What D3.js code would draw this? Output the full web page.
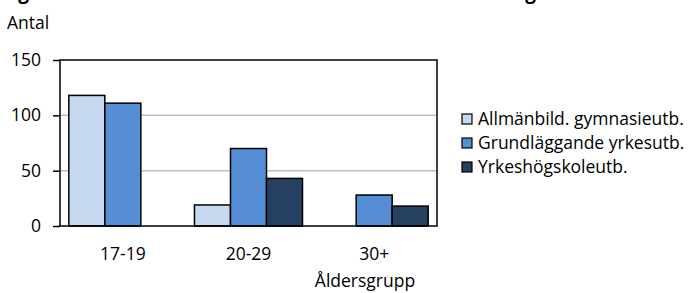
<!DOCTYPE html>
<html>
<head>
<meta charset="utf-8">
<script src="https://cdn.jsdelivr.net/npm/d3@7"></script>
<style>
  body { margin: 0; background: #fff; }
  text { font-family: "Open Sans", "Noto Sans", sans-serif; fill: #000; }
</style>
</head>
<body>
<div id="chart"></div>
<script>
// data
var categories = ["17-19", "20-29", "30+"];
var seriesNames = ["Allmänbild. gymnasieutb.", "Grundläggande yrkesutb.", "Yrkeshögskoleutb."];
var allmanbild = [118, 19, 0];
var grundlaggande = [111, 70, 28];
var yrkeshogskola = [0, 43, 18];
var yTicks = [0, 50, 100, 150];

var seriesValues = [allmanbild, grundlaggande, yrkeshogskola];
var colors = ["#c6d9f1", "#558ed5", "#254061"];
var font = "'Open Sans', sans-serif";
var fs = 17.5;

var svgWidth = 697;
var svgHeight = 293;

var margin = { top: 60, right: 260, bottom: 67, left: 60 };
var width = svgWidth - margin.left - margin.right;
var height = svgHeight - margin.top - margin.bottom;

var svg = d3.select("#chart")
            .append("svg")
            .attr("width", svgWidth)
            .attr("height", svgHeight);

// title, mostly cut off by the top edge in the original
svg.append("text")
   .attr("x", 0)
   .attr("y", -1.5)
   .attr("font-weight", "bold")
   .attr("font-size", 19)
   .attr("textLength", 536)
   .attr("lengthAdjust", "spacing")
   .text("Figur 2. Antal studerande efter ålder och utbildning");

svg.append("text")
   .attr("x", 7)
   .attr("y", 29)
   .attr("font-size", fs)
   .text("Antal");

var chartGroup = svg.append("g")
                    .attr("transform", `translate(${margin.left}, ${margin.top})`);

var rows = categories.map(function(c, i) {
    return { cat: c, vals: seriesValues.map(function(s, j) { return { key: j, v: s[i] }; }) };
});

// scales
var x0 = d3.scaleBand()
           .domain(categories)
           .range([0, width]);

var x1 = d3.scaleBand()
           .domain(d3.range(seriesNames.length))
           .range([0, x0.bandwidth()])
           .paddingOuter(0.245);

var y = d3.scaleLinear()
          .domain([0, 150])
          .range([height, 0]);

// gridlines
chartGroup.selectAll(".grid")
          .data(yTicks.filter(d => d > 0 && d < 150))
          .enter()
          .append("line")
          .attr("x1", 0)
          .attr("x2", width)
          .attr("y1", d => y(d))
          .attr("y2", d => y(d))
          .attr("stroke", "#bfbfbf")
          .attr("stroke-width", 1.5);

// bars
var groups = chartGroup.selectAll(".grp")
                       .data(rows)
                       .enter()
                       .append("g")
                       .attr("transform", d => `translate(${x0(d.cat)},0)`);

groups.selectAll("rect")
      .data(d => d.vals.filter(b => b.v > 0))
      .enter()
      .append("rect")
      .attr("x", d => x1(d.key))
      .attr("y", d => y(d.v))
      .attr("width", x1.bandwidth())
      .attr("height", d => y(0) - y(d.v))
      .attr("fill", d => colors[d.key])
      .attr("stroke", "#000")
      .attr("stroke-width", 1.5);

// plot frame
chartGroup.append("rect")
          .attr("x", 0)
          .attr("y", 0)
          .attr("width", width)
          .attr("height", height)
          .attr("fill", "none")
          .attr("stroke", "#000")
          .attr("stroke-width", 1.5);

// axes
var leftAxis = d3.axisLeft(y).tickValues(yTicks).tickSize(7).tickPadding(12);
var yAxisG = chartGroup.append("g").call(leftAxis);
yAxisG.select(".domain").remove();
yAxisG.selectAll(".tick line").attr("stroke", "#000").attr("stroke-width", 1.5);
yAxisG.selectAll("text").attr("font-size", fs).attr("font-family", font).attr("fill", "#000");

var bottomAxis = d3.axisBottom(x0).tickSize(0).tickPadding(22);
var xAxisG = chartGroup.append("g")
                       .attr("transform", `translate(0, ${height})`)
                       .call(bottomAxis);
xAxisG.select(".domain").remove();
xAxisG.selectAll("text").attr("font-size", fs).attr("font-family", font).attr("fill", "#000");

svg.append("text")
   .attr("x", 365)
   .attr("y", 287)
   .attr("text-anchor", "middle")
   .attr("font-size", fs)
   .text("Åldersgrupp");

// legend
var legend = svg.selectAll(".legend")
                .data(seriesNames)
                .enter()
                .append("g")
                .attr("transform", (d, i) => `translate(462, ${119 + i * 24})`);

legend.append("rect")
      .attr("x", 0)
      .attr("y", -5)
      .attr("width", 10)
      .attr("height", 10)
      .attr("fill", (d, i) => colors[i])
      .attr("stroke", "#000")
      .attr("stroke-width", 1.2);

legend.append("text")
      .attr("x", 16)
      .attr("dy", "0.35em")
      .attr("font-size", fs)
      .text(d => d);
</script>
</body>
</html>
